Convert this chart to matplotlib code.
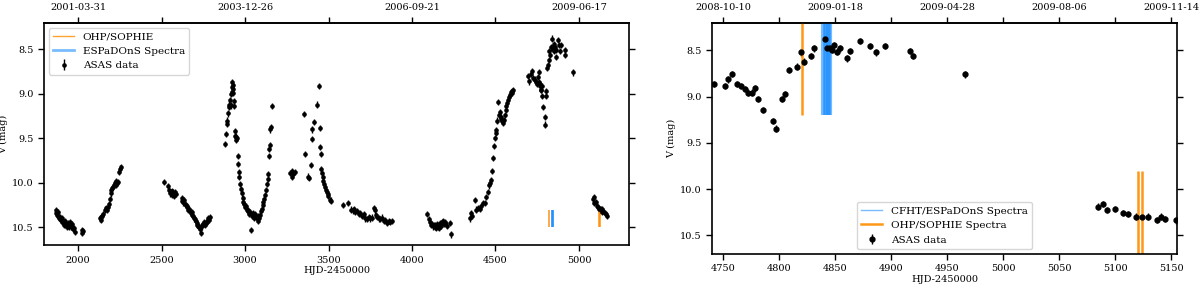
import matplotlib
matplotlib.use("Agg")
import matplotlib.pyplot as plt
from matplotlib.lines import Line2D

# === DATA ===
# ASAS V-band photometry, HJD-2450000 and V (mag)
asas_hjd = [
    1866, 1870, 1874, 1878, 1882, 1886, 1890, 1894, 1898, 1902, 1906, 1910,
    1914, 1918, 1922, 1926, 1930, 1934, 1938, 1942, 1946, 1950, 1954, 1958,
    1962, 1966, 1970, 1975, 1980, 2022, 2026, 2030,
    2130, 2135, 2140, 2145, 2150, 2160, 2170, 2175, 2180, 2185, 2190, 2195,
    2200, 2205, 2210, 2215, 2220, 2225, 2230, 2235, 2240, 2245, 2250, 2255,
    2516, 2540, 2545, 2550, 2555, 2560, 2565, 2570, 2575, 2580, 2585,
    2620, 2625, 2630, 2635, 2640, 2645, 2650, 2655, 2660, 2665, 2670, 2675,
    2680, 2685, 2690, 2695, 2700, 2705, 2710, 2715, 2720, 2725, 2730, 2735,
    2740, 2745, 2750, 2755, 2760, 2765, 2770, 2775, 2780, 2785, 2790,
    2882, 2886, 2890, 2893, 2896, 2902, 2906, 2910, 2913, 2916, 2920, 2922,
    2924, 2926, 2928, 2930, 2932, 2934, 2938, 2940, 2944, 2948, 2952, 2956,
    2960, 2963, 2966, 2970, 2975, 2980, 2985, 2990, 2995, 3000, 3005, 3010,
    3015, 3020, 3025, 3030, 3034, 3040, 3045, 3050, 3055, 3060, 3065, 3070,
    3075, 3080, 3085, 3090, 3095, 3100, 3105, 3110, 3115, 3120, 3125, 3130,
    3135, 3140, 3144, 3146, 3148, 3152, 3156, 3164,
    3272, 3279, 3284, 3290, 3300,
    3355, 3359, 3380, 3384, 3395, 3399, 3403, 3415, 3433, 3441, 3449, 3451,
    3453, 3456, 3459, 3464, 3469, 3474, 3479, 3484, 3489, 3494, 3499, 3506,
    3514,
    3589, 3619, 3634, 3645, 3652, 3660, 3670, 3680, 3690, 3700, 3710, 3720,
    3730, 3740, 3750, 3760, 3772, 3778, 3785, 3792, 3800, 3810, 3820, 3830,
    3840, 3850, 3860, 3870, 3880,
    4088, 4100, 4108, 4115, 4120, 4125, 4130, 4135, 4140, 4145, 4150, 4155,
    4160, 4165, 4170, 4175, 4180, 4185, 4190, 4195, 4200, 4210, 4226, 4231,
    4346, 4352, 4360, 4376, 4386, 4396, 4406, 4416, 4426, 4436, 4446, 4456,
    4462, 4470, 4476, 4480, 4486, 4492, 4498, 4502, 4506, 4512, 4518, 4520,
    4526, 4531, 4536, 4541, 4546, 4551, 4556, 4561, 4566, 4571, 4576, 4581,
    4586, 4591, 4596, 4601, 4606,
    4692, 4702, 4712, 4720, 4726, 4734,
    4742.2, 4751.2, 4754.2, 4758.1, 4762.2, 4766.1, 4769.4, 4772.1, 4775.4,
    4778.4, 4781.0, 4785.5, 4794.2, 4797.2, 4802.7, 4805.6, 4808.6, 4816.0,
    4819.3, 4822.2, 4828.2, 4831.2, 4841.0, 4843.1, 4845.2, 4846.7, 4848.5,
    4851.5, 4854.5, 4860.4, 4863.4, 4872.1, 4881.3, 4886.4, 4894.5, 4916.4,
    4919.4, 4966.0,
    5084.9, 5088.8, 5092.6, 5099.8, 5106.6, 5111.4, 5118.5, 5123.6, 5129.5,
    5137.2, 5140.8, 5144.4, 5154.2, 5160.0, 5166.0,
]
asas_v = [
    10.31, 10.34, 10.36, 10.33, 10.37, 10.39, 10.38, 10.41, 10.42, 10.40, 10.44, 10.43,
    10.45, 10.47, 10.43, 10.48, 10.46, 10.49, 10.45, 10.48, 10.50, 10.47, 10.44, 10.49,
    10.46, 10.50, 10.52, 10.51, 10.55, 10.53, 10.56, 10.54,
    10.40, 10.38, 10.42, 10.37, 10.35, 10.30, 10.28, 10.30, 10.27, 10.24, 10.18, 10.12,
    10.08, 10.06, 10.05, 10.02, 10.00, 10.02, 9.98, 10.00, 9.99, 9.88, 9.84, 9.82,
    9.99, 10.04, 10.08, 10.12, 10.10, 10.14, 10.09, 10.11, 10.15, 10.10, 10.13,
    10.17, 10.20, 10.22, 10.19, 10.24, 10.25, 10.27, 10.26, 10.30, 10.29, 10.32, 10.34,
    10.33, 10.36, 10.37, 10.40, 10.41, 10.43, 10.45, 10.47, 10.48, 10.50, 10.52, 10.56,
    10.49, 10.47, 10.46, 10.44, 10.47, 10.45, 10.43, 10.44, 10.40, 10.42, 10.38,
    9.56, 9.45, 9.34, 9.30, 9.22, 9.15, 9.12, 9.07, 9.13, 9.00, 8.98, 8.92,
    8.87, 8.90, 8.95, 8.99, 9.08, 9.14, 9.42, 9.47, 9.52, 9.48, 9.50, 9.70,
    9.79, 9.88, 9.93, 10.01, 10.07, 10.12, 10.17, 10.21, 10.24, 10.27, 10.26, 10.30,
    10.32, 10.31, 10.35, 10.33, 10.53, 10.37, 10.34, 10.36, 10.39, 10.35, 10.38, 10.40,
    10.37, 10.43, 10.39, 10.36, 10.32, 10.29, 10.25, 10.21, 10.18, 10.14, 10.08, 10.01,
    9.96, 9.90, 9.70, 9.62, 9.58, 9.40, 9.37, 9.14,
    9.89, 9.93, 9.87, 9.90, 9.88,
    9.23, 9.68, 9.93, 9.95, 9.80, 9.51, 9.40, 9.32, 9.12, 8.91, 9.38, 9.60,
    9.68, 9.85, 9.89, 9.93, 9.98, 10.01, 10.05, 10.08, 10.10, 10.13, 10.15, 10.19,
    10.20,
    10.25, 10.23, 10.30, 10.31, 10.29, 10.33, 10.32, 10.35, 10.34, 10.37, 10.35, 10.40,
    10.41, 10.38, 10.40, 10.39, 10.28, 10.31, 10.36, 10.38, 10.40, 10.41, 10.39, 10.43,
    10.42, 10.45, 10.43, 10.44, 10.43,
    10.35, 10.41, 10.44, 10.47, 10.46, 10.49, 10.47, 10.50, 10.48, 10.51, 10.46, 10.49,
    10.51, 10.47, 10.45, 10.48, 10.44, 10.43, 10.46, 10.44, 10.45, 10.48, 10.45, 10.58,
    10.40, 10.34, 10.37, 10.19, 10.30, 10.28, 10.29, 10.26, 10.23, 10.23, 10.16, 10.10,
    10.03, 10.00, 9.97, 9.87, 9.72, 9.59, 9.50, 9.44, 9.41, 9.30, 9.09, 9.24,
    9.20, 9.26, 9.28, 9.30, 9.33, 9.29, 9.24, 9.18, 9.14, 9.10, 9.07, 9.03,
    9.01, 8.98, 8.99, 8.97, 8.96,
    8.80, 8.86, 8.78, 8.74, 8.82, 8.84,
    8.863, 8.885, 8.813, 8.755, 8.863, 8.885, 8.917, 8.957, 8.957,
    8.910, 9.025, 9.144, 9.263, 9.345, 9.025, 8.971, 8.712, 8.676,
    8.522, 8.622, 8.561, 8.478, 8.378, 8.471, 8.478, 8.496, 8.442,
    8.514, 8.478, 8.586, 8.507, 8.399, 8.450, 8.522, 8.453, 8.504,
    8.558, 8.759,
    10.187, 10.158, 10.223, 10.216, 10.259, 10.270, 10.295, 10.299, 10.295,
    10.331, 10.295, 10.320, 10.338, 10.35, 10.37,
]
ASAS_ERR = 0.035

# Spectroscopic epochs (HJD-2450000)
ohp_sophie = [4820.0, 5120.0, 5123.5]
espadons = [4839.5, 4840.5, 4841.5, 4843.5, 4844.5, 4845.5]

# top-axis calendar dates
left_ticks = [2000, 2500, 3000, 3500, 4000, 4500, 5000]
left_dates = ["2001-03-31", "", "2003-12-26", "", "2006-09-21", "", "2009-06-17"]
right_ticks = [4750, 4800, 4850, 4900, 4950, 5000, 5050, 5100, 5150]
right_dates = ["2008-10-10", "", "2009-01-18", "", "2009-04-28", "",
               "2009-08-06", "", "2009-11-14"]

ORANGE = "darkorange"
BLUE = "dodgerblue"
FS = 7

plt.rcParams["font.family"] = "DejaVu Serif"
plt.rcParams["font.size"] = FS


def style_axis(ax, ticks, labels, xlim):
    ax.set_xlim(*xlim)
    ax.set_ylim(10.7, 8.2)
    ax.set_yticks([8.5, 9.0, 9.5, 10.0, 10.5])
    ax.tick_params(direction="out", right=True, labelsize=FS, width=1, length=4)
    top = ax.secondary_xaxis("top")
    top.set_xticks(ticks, labels)
    top.tick_params(direction="out", labelsize=FS, width=1, length=4)
    ax.set_xlabel("HJD-2450000", labelpad=1)
    ax.set_ylabel("V (mag)", labelpad=3)
    for s in ax.spines.values():
        s.set_linewidth(1.2)
    for s in top.spines.values():
        s.set_linewidth(1.2)


fig = plt.figure(figsize=(12, 2.87), dpi=100)
ax1 = fig.add_axes([0.0367, 0.146, 0.4875, 0.775])
ax2 = fig.add_axes([0.5933, 0.115, 0.3875, 0.806])

# === LEFT: full light curve ===
ax1.errorbar(asas_hjd, asas_v, yerr=ASAS_ERR, fmt="o", ms=2.3, color="k",
             ecolor="k", elinewidth=1, capsize=0)
ax1.vlines(ohp_sophie, 10.3, 10.5, color=ORANGE, lw=1.3, alpha=0.8)
ax1.vlines(espadons, 10.3, 10.5, color=BLUE, lw=1.3, alpha=0.5)
style_axis(ax1, left_ticks, left_dates, (1796, 5300))
h1 = [Line2D([], [], color=ORANGE, lw=1, alpha=0.8),
      Line2D([], [], color=BLUE, lw=2, alpha=0.6),
      ax1.containers[0]]
ax1.legend(h1, ["OHP/SOPHIE", "ESPaDOnS Spectra", "ASAS data"],
           loc="upper left", fontsize=7.5)

# === RIGHT: zoom on 2008-2009 ===
ax2.errorbar(asas_hjd, asas_v, yerr=ASAS_ERR, fmt="o", ms=3.5, color="k",
             ecolor="k", elinewidth=1, capsize=0)
ax2.vlines(espadons, 8.0, 9.2, color=BLUE, lw=3, alpha=0.6)
ax2.vlines(ohp_sophie[:1], 8.0, 9.2, color=ORANGE, lw=1.8, alpha=0.9)
ax2.vlines(ohp_sophie[1:], 9.8, 10.8, color=ORANGE, lw=1.8, alpha=0.9)
style_axis(ax2, right_ticks, right_dates, (4740, 5155))
h2 = [Line2D([], [], color=BLUE, lw=1, alpha=0.6),
      Line2D([], [], color=ORANGE, lw=1.8, alpha=0.9),
      ax2.containers[0]]
ax2.legend(h2, ["CFHT/ESPaDOnS Spectra", "OHP/SOPHIE Spectra", "ASAS data"],
           loc="lower center", fontsize=7.5)

fig.savefig("out.png", dpi=100)
